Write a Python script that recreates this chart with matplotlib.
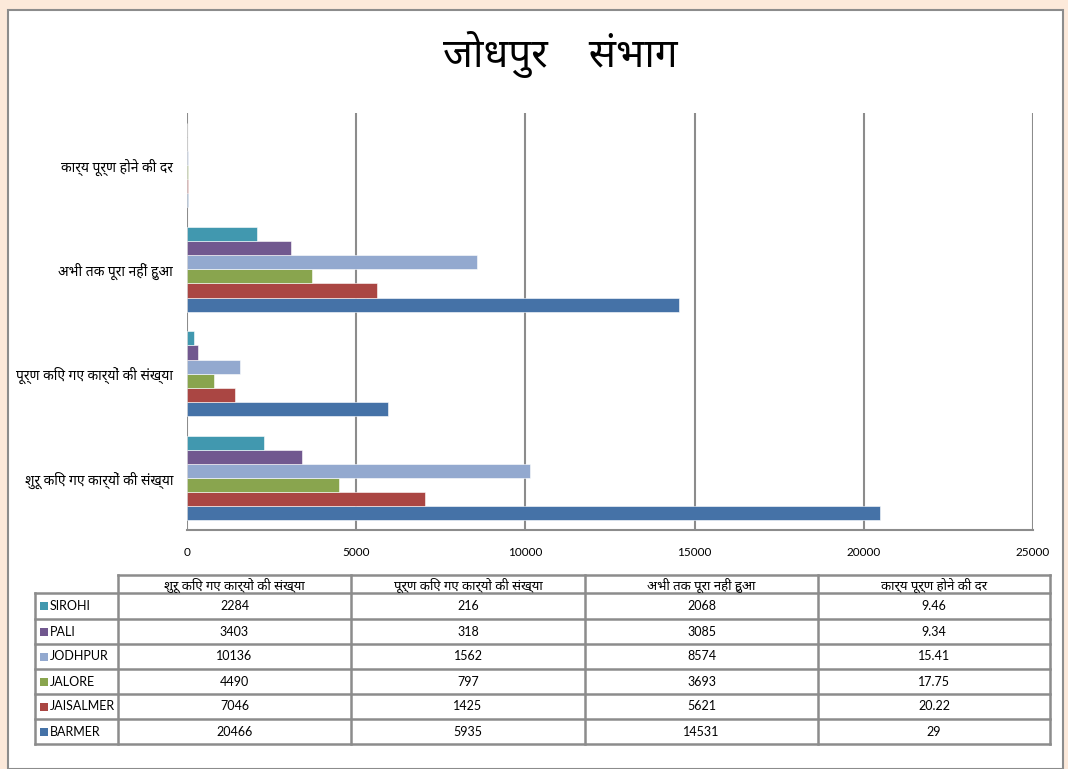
import matplotlib
matplotlib.use("Agg")
import matplotlib.pyplot as plt
from matplotlib import font_manager
from matplotlib.patches import Rectangle

# data
categories = ["शुरू किए गए कार्यों की संख्या", "पूर्ण किए गए कार्यों की संख्या",
              "अभी तक पूरा नहीं हुआ", "कार्य पूर्ण होने की दर"]
districts = ["BARMER", "JAISALMER", "JALORE", "JODHPUR", "PALI", "SIROHI"]
started = [20466, 7046, 4490, 10136, 3403, 2284]
completed = [5935, 1425, 797, 1562, 318, 216]
pending = [14531, 5621, 3693, 8574, 3085, 2068]
rate = [29, 20.22, 17.75, 15.41, 9.34, 9.46]
rate_labels = ["29", "20.22", "17.75", "15.41", "9.34", "9.46"]
colors = ["#4572A7", "#AA4643", "#89A54E", "#93A9CF", "#71588F", "#4198AF"]
xticks = [0, 5000, 10000, 15000, 20000, 25000]
title = "जोधपुर    संभाग"

# pick a devanagari font that is installed
have = {f.name for f in font_manager.fontManager.ttflist}
deva = None
for name in ["Noto Sans Devanagari", "Hind", "Mukta", "Ek Mukta", "Anek Devanagari", "FreeSans"]:
    if name in have:
        deva = name
        break
fam = ["Lato"] + ([deva] if deva else []) + ["DejaVu Sans"]
plt.rcParams["font.family"] = fam

W, H = 1068, 769
fig = plt.figure(figsize=(W / 100, H / 100), dpi=100, facecolor="#FCE9DA")

# white chart area
fig.patches.append(Rectangle((8 / W, 0), 1055 / W, (H - 10) / H, transform=fig.transFigure,
                             facecolor="white", edgecolor="#8C8C8C", lw=1.5, zorder=-5))

ax = fig.add_axes([187 / W, 1 - 530 / H, (1033 - 187) / W, (530 - 113) / H])
ax.set_facecolor("none")
series = [started, completed, pending, rate]
bh = 0.135
for j, name in enumerate(districts):
    vals = [s[j] for s in series]
    ys = [i + (j - 2.5) * bh for i in range(len(categories))]
    ax.barh(ys, vals, height=bh, color=colors[j], edgecolor="white", linewidth=0.4, zorder=3)

ax.set_xlim(0, 25000)
ax.set_ylim(-0.5, len(categories) - 0.5)
ax.set_xticks(xticks)
ax.set_xticklabels([str(t) for t in xticks], fontsize=8.5)
ax.set_yticks(range(len(categories)))
ax.set_yticklabels(categories, fontsize=10)
ax.tick_params(length=0, pad=10)
ax.tick_params(axis="x", pad=12)
ax.grid(axis="x", color="#8C8C8C", lw=1.5, zorder=0)
for s in ["top", "right", "left"]:
    ax.spines[s].set_visible(False)
ax.spines["bottom"].set_color("#8C8C8C")
ax.spines["bottom"].set_linewidth(1.5)

fig.text(560 / W, 1 - 54 / H, title, ha="center", va="center", fontsize=29)

# data table drawn in pixel coords
tab = fig.add_axes([0, 0, 1, 1])
tab.set_xlim(0, W)
tab.set_ylim(H, 0)
tab.axis("off")
tab.set_facecolor("none")
col_x = [35, 118, 351, 585, 818, 1050]
row_y = [575, 593, 619, 644, 669, 694, 719, 744]
lc = "#8C8C8C"
# header
tab.plot([col_x[1], col_x[-1]], [row_y[0], row_y[0]], color=lc, lw=1.8)
for x in col_x[1:]:
    tab.plot([x, x], [row_y[0], row_y[-1]], color=lc, lw=1.8)
tab.plot([col_x[0], col_x[0]], [row_y[1], row_y[-1]], color=lc, lw=1.8)
for y in row_y[1:]:
    tab.plot([col_x[0], col_x[-1]], [y, y], color=lc, lw=1.8)
for k, c in enumerate(categories):
    tab.text((col_x[k + 1] + col_x[k + 2]) / 2, (row_y[0] + row_y[1]) / 2 + 1, c,
             ha="center", va="center", fontsize=9.5)
cols = [[str(v) for v in started], [str(v) for v in completed],
        [str(v) for v in pending], rate_labels]
for r in range(len(districts)):
    j = len(districts) - 1 - r
    yc = (row_y[r + 1] + row_y[r + 2]) / 2
    tab.add_patch(Rectangle((40, yc - 4), 8, 8, facecolor=colors[j], edgecolor="none"))
    tab.text(50, yc, districts[j], ha="left", va="center", fontsize=9)
    for k in range(4):
        tab.text((col_x[k + 1] + col_x[k + 2]) / 2, yc, cols[k][j],
                 ha="center", va="center", fontsize=9)

fig.savefig("out.png", dpi=100, facecolor=fig.get_facecolor())
